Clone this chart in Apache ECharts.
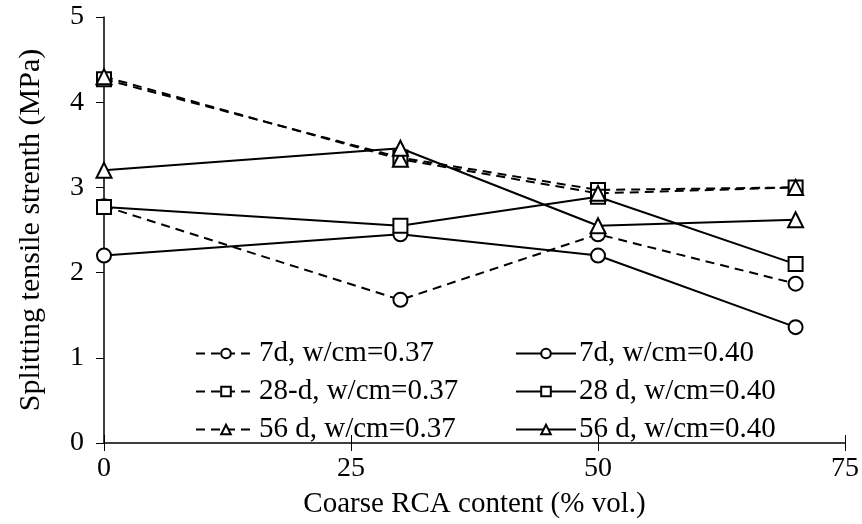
<!DOCTYPE html>
<html>
<head>
<meta charset="utf-8">
<script src="https://cdn.jsdelivr.net/npm/echarts@6/dist/echarts.min.js"></script>
<style>html,body{margin:0;padding:0;background:#fff}#c{width:862px;height:524px}</style>
</head>
<body>
<div id="c"></div>
<script>
const rcaContent = [0, 30, 50, 70];
const d7_037  = [2.78, 1.68, 2.45, 1.87];
const d7_040  = [2.20, 2.45, 2.20, 1.36];
const d28_037 = [4.27, 3.35, 2.97, 3.00];
const d28_040 = [2.77, 2.55, 2.89, 2.10];
const d56_037 = [4.30, 3.33, 2.93, 3.00];
const d56_040 = [3.20, 3.46, 2.55, 2.62];
const seriesNames = ["7d, w/cm=0.37", "7d, w/cm=0.40", "28-d, w/cm=0.37", "28 d, w/cm=0.40", "56 d, w/cm=0.37", "56 d, w/cm=0.40"];
const xTicks = [0, 25, 50, 75];
const yTicks = [0, 1, 2, 3, 4, 5];

const FONT = "Liberation Serif";
function mk(name, vals, symbol, dashed) {
  return {
    name: name,
    type: 'line',
    data: rcaContent.map((x, i) => [x, vals[i]]),
    symbol: symbol,
    symbolSize: symbol === 'triangle' ? 15 : 14,
    showSymbol: true,
    lineStyle: { color: '#000', width: 2, type: dashed ? [9, 6] : 'solid' },
    itemStyle: { color: '#fff', borderColor: '#000', borderWidth: 2 },
    emphasis: { disabled: true },
    z: 3
  };
}
const series = [
  mk(seriesNames[0], d7_037, 'circle', true),
  mk(seriesNames[1], d7_040, 'circle', false),
  mk(seriesNames[2], d28_037, 'rect', true),
  mk(seriesNames[3], d28_040, 'rect', false),
  mk(seriesNames[4], d56_037, 'triangle', true),
  mk(seriesNames[5], d56_040, 'triangle', false)
];
const legendCommon = {
  orient: 'vertical',
  itemWidth: 60, itemHeight: 12, itemGap: 9, padding: 0,
  textStyle: { fontFamily: FONT, fontSize: 29, color: '#000', padding: [0, 0, 0, -2] },
  selectedMode: false
};
const chart = echarts.init(document.getElementById('c'), null, { renderer: 'canvas' });
chart.setOption({
  animation: false,
  backgroundColor: '#fff',
  grid: { left: 104, right: 16, top: 17, bottom: 80, containLabel: false },
  legend: [
    Object.assign({}, legendCommon, { left: 195, top: 339, data: [seriesNames[0], seriesNames[2], seriesNames[4]] }),
    Object.assign({}, legendCommon, { left: 515, top: 339, data: [seriesNames[1], seriesNames[3], seriesNames[5]] })
  ],
  xAxis: [{
    type: 'value', min: 0, max: 75, interval: 25,
    name: 'Coarse RCA content (% vol.)', nameLocation: 'middle', nameGap: 47,
    nameTextStyle: { fontFamily: FONT, fontSize: 29, color: '#000' },
    axisLine: { lineStyle: { color: '#000', width: 1.5 } },
    axisTick: { show: true, length: 8, lineStyle: { color: '#000', width: 1 } },
    axisLabel: { fontFamily: FONT, fontSize: 28, color: '#000', margin: 12,
      formatter: v => xTicks.includes(v) ? String(v) : '' },
    splitLine: { show: false }
  }, {
    type: 'value', min: 0, max: 75, interval: 25, position: 'bottom',
    axisLine: { show: false },
    axisTick: { show: true, inside: true, length: 8, lineStyle: { color: '#000', width: 1 } },
    axisLabel: { show: false }, splitLine: { show: false }
  }],
  yAxis: {
    type: 'value', min: 0, max: 5, interval: 1,
    name: 'Splitting tensile strenth (MPa)', nameLocation: 'middle', nameGap: 58,
    nameTextStyle: { fontFamily: FONT, fontSize: 30, color: '#000' },
    axisLine: { show: true, lineStyle: { color: '#000', width: 1.5 } },
    axisTick: { show: true, length: 8, lineStyle: { color: '#000', width: 1 } },
    axisLabel: { fontFamily: FONT, fontSize: 28, color: '#000', margin: 20,
      formatter: v => yTicks.includes(v) ? String(v) : '' },
    splitLine: { show: false }
  },
  series: series
});
</script>
</body>
</html>
